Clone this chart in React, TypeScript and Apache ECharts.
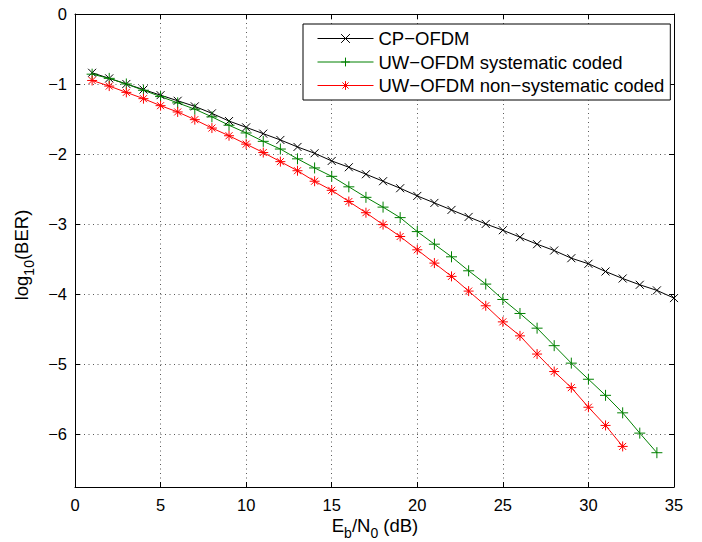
import React, { useEffect, useRef } from "react";
import * as echarts from "echarts";

const snrCP = [1,2,3,4,5,6,7,8,9,10,11,12,13,14,15,16,17,18,19,20,21,22,23,24,25,26,27,28,29,30,31,32,33,34,35];
const berCP = [-0.84,-0.92,-1.0,-1.08,-1.16,-1.24,-1.32,-1.42,-1.53,-1.62,-1.71,-1.80,-1.90,-1.99,-2.10,-2.19,-2.29,-2.39,-2.49,-2.60,-2.70,-2.80,-2.90,-3.0,-3.09,-3.19,-3.29,-3.38,-3.49,-3.57,-3.68,-3.78,-3.87,-3.95,-4.06];

const snrSys = [1,2,3,4,5,6,7,8,9,10,11,12,13,14,15,16,17,18,19,20,21,22,23,24,25,26,27,28,29,30,31,32,33,34];
const berSys = [-0.86,-0.92,-1.0,-1.09,-1.18,-1.27,-1.36,-1.47,-1.59,-1.70,-1.82,-1.93,-2.07,-2.20,-2.32,-2.47,-2.62,-2.76,-2.91,-3.11,-3.29,-3.47,-3.67,-3.86,-4.08,-4.28,-4.49,-4.74,-4.99,-5.22,-5.45,-5.70,-5.99,-6.27];

const snrNon = [1,2,3,4,5,6,7,8,9,10,11,12,13,14,15,16,17,18,19,20,21,22,23,24,25,26,27,28,29,30,31,32];
const berNon = [-0.95,-1.03,-1.12,-1.21,-1.31,-1.40,-1.51,-1.63,-1.74,-1.86,-1.98,-2.11,-2.24,-2.39,-2.52,-2.68,-2.84,-3.01,-3.18,-3.37,-3.56,-3.75,-3.96,-4.17,-4.40,-4.60,-4.86,-5.11,-5.34,-5.62,-5.88,-6.18];

const seriesNames = ["CP−OFDM", "UW−OFDM systematic coded", "UW−OFDM non−systematic coded"];
const yTicks = [0, -1, -2, -3, -4, -5, -6];
const xMin = 0, xMax = 35, xStep = 5;
const yMin = -6.76, yMax = 0;

const FONT = "'Liberation Sans', Arial, Helvetica, sans-serif";

const zip = (xs: number[], ys: number[]) => ys.map((y, i) => [xs[i], y]);
const fmt = (v: number) => (v < 0 ? "−" + Math.abs(v) : String(v));

const SYM_X = "path://M0,0L10,10M10,0L0,10";
const SYM_PLUS = "path://M5,0L5,10M0,5L10,5";
const SYM_STAR = "path://M5,0L5,10M0,5L10,5M1.5,1.5L8.5,8.5M8.5,1.5L1.5,8.5";

export default function App() {
  const ref = useRef<HTMLDivElement>(null);
  useEffect(() => {
    if (!ref.current) return;
    const chart = echarts.init(ref.current, undefined, { renderer: "svg" });
    const mk = (name: string, data: number[][], color: string, symbol: string, size: number) => ({
      name,
      type: "line",
      data,
      symbol,
      symbolSize: size,
      showSymbol: true,
      lineStyle: { color, width: 1 },
      itemStyle: { color, borderColor: color, borderWidth: 1 },
      emphasis: { disabled: true },
      z: 3,
    });
    const axisLineStyle = { show: true, onZero: false, lineStyle: { color: "#000", width: 1 } };
    const gridLine = { show: true, lineStyle: { color: "#000", width: 1, type: [1, 3.5], opacity: 0.65 } };
    const sub = {
      m: { fontSize: 18.5, fontFamily: FONT, fill: "#000", verticalAlign: "bottom", padding: [0, 0, 5, 0] },
      s: { fontSize: 14, fontFamily: FONT, fill: "#000", verticalAlign: "bottom" },
    };
    chart.setOption({
      animation: false,
      backgroundColor: "#fff",
      grid: { left: 75, right: 28, top: 14, bottom: 55, containLabel: false },
      xAxis: [
        {
          type: "value", min: xMin, max: xMax, interval: xStep, position: "bottom",
          axisLine: axisLineStyle,
          axisTick: { show: true, inside: true, length: 5, lineStyle: { color: "#000" } },
          axisLabel: { color: "#000", fontSize: 16.5, fontFamily: FONT, margin: 9, formatter: fmt },
          splitLine: gridLine,
        },
        {
          type: "value", min: xMin, max: xMax, interval: xStep, position: "top",
          axisLine: axisLineStyle,
          axisTick: { show: true, inside: true, length: 5, lineStyle: { color: "#000" } },
          axisLabel: { show: false },
          splitLine: { show: false },
        },
      ],
      yAxis: [
        {
          type: "value", min: yMin, max: yMax, position: "left",
          axisLine: axisLineStyle,
          axisTick: { show: true, inside: true, length: 5, lineStyle: { color: "#000" }, customValues: yTicks },
          axisLabel: { color: "#000", fontSize: 16.5, fontFamily: FONT, margin: 8, formatter: fmt, customValues: yTicks },
          splitLine: gridLine,
        },
        {
          type: "value", min: yMin, max: yMax, position: "right",
          axisLine: axisLineStyle,
          axisTick: { show: true, inside: true, length: 5, lineStyle: { color: "#000" }, customValues: yTicks },
          axisLabel: { show: false, customValues: yTicks },
          splitLine: { show: false },
        },
      ],
      legend: {
        left: 303,
        top: 24,
        orient: "vertical",
        padding: [5, 6, 5, 14],
        itemGap: 4.5,
        itemWidth: 56,
        itemHeight: 11,
        backgroundColor: "#fff",
        borderColor: "#000",
        borderWidth: 1,
        borderRadius: 0,
        lineStyle: { width: 1 },
        itemStyle: { borderWidth: 1 },
        textStyle: { color: "#000", fontSize: 18.5, fontFamily: FONT, lineHeight: 18 },
        data: seriesNames,
      },
      series: [
        mk(seriesNames[0], zip(snrCP, berCP), "#000000", SYM_X, 8),
        mk(seriesNames[1], zip(snrSys, berSys), "#008000", SYM_PLUS, 11),
        mk(seriesNames[2], zip(snrNon, berNon), "#ff0000", SYM_STAR, 10),
      ],
      graphic: [
        {
          type: "text",
          x: 375,
          y: 528,
          style: {
            text: "{m|E}{s|b}{m|/N}{s|0}{m| (dB)}",
            align: "center",
            verticalAlign: "middle",
            fill: "#000",
            rich: sub,
          },
        },
        {
          type: "text",
          x: 24,
          y: 255,
          rotation: Math.PI / 2,
          style: {
            text: "{m|log}{s|10}{m|(BER)}",
            align: "center",
            verticalAlign: "middle",
            fill: "#000",
            rich: sub,
          },
        },
      ],
    });
    return () => chart.dispose();
  }, []);
  return <div ref={ref} style={{ width: 702, height: 542, position: "absolute", left: 0, top: 0 }} />;
}
